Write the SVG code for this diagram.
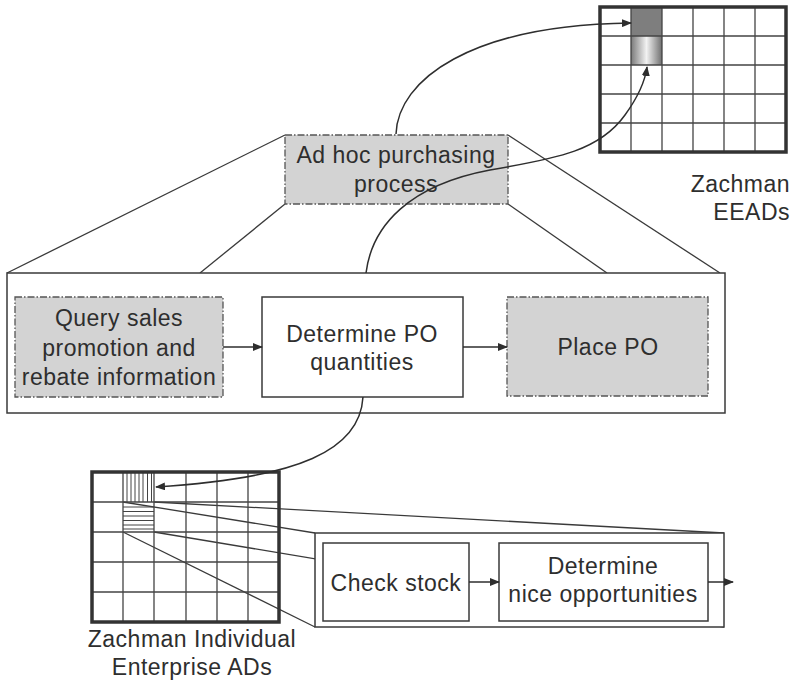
<svg xmlns="http://www.w3.org/2000/svg" width="799" height="684" viewBox="0 0 799 684">
<style>
text{font-family:"Liberation Sans",Arial,sans-serif;font-size:23px;letter-spacing:0.5px;fill:#2e2e2e;text-anchor:middle}
.box{fill:#fff;stroke:#3a3a3a;stroke-width:1.5}
.dash{fill:#d3d3d3;stroke:#555;stroke-width:1.3;stroke-dasharray:7 2 1.5 2}
.ln{fill:none;stroke:#3a3a3a;stroke-width:1.3}
.grid{fill:none;stroke:#444;stroke-width:1.3}
.frame{fill:none;stroke:#333;stroke-width:3.5}
.arr{fill:none;stroke:#2e2e2e;stroke-width:1.5;marker-end:url(#ah)}
.hatch{stroke:#444;stroke-width:1}
</style>
<defs>
<marker id="ah" viewBox="0 0 10 8" refX="9" refY="4" markerWidth="10" markerHeight="8" markerUnits="userSpaceOnUse" orient="auto">
<path d="M0,0 L10,4 L0,8 Z" fill="#2e2e2e"/>
</marker>
<linearGradient id="gcell" x1="0" y1="0" x2="1" y2="0">
<stop offset="0" stop-color="#7a7a7a"/>
<stop offset="0.5" stop-color="#f2f2f2"/>
<stop offset="1" stop-color="#6f6f6f"/>
</linearGradient>
</defs>
<rect width="799" height="684" fill="#fff"/>

<g id="projections">
<line class="ln" x1="285" y1="135" x2="7" y2="273"/>
<line class="ln" x1="285" y1="204" x2="200" y2="273"/>
<line class="ln" x1="508" y1="135" x2="720" y2="273"/>
<line class="ln" x1="508" y1="204" x2="607" y2="273"/>
<line class="ln" x1="123" y1="502" x2="315" y2="533"/>
<line class="ln" x1="154" y1="502" x2="724" y2="533"/>
<line class="ln" x1="123" y1="532" x2="315" y2="627"/>
<line class="ln" x1="154" y1="532" x2="724" y2="627"/>
</g>

<g id="eeads">
<rect x="631" y="7" width="31" height="29" fill="#7e7e7e"/>
<rect x="631" y="36" width="31" height="29" fill="url(#gcell)"/>
<path class="grid" d="M631,7V152M662,7V152M693,7V152M724,7V152M755,7V152M600,36H786M600,65H786M600,94H786M600,123H786"/>
<rect class="frame" x="600" y="7" width="186" height="145"/>
<text x="790" y="192" style="text-anchor:end">Zachman</text>
<text x="790" y="220" style="text-anchor:end">EEADs</text>
</g>

<g id="adhoc">
<rect class="dash" x="285" y="135" width="223" height="69"/>
<text x="396" y="163">Ad hoc purchasing</text>
<text x="396" y="192">process</text>
</g>

<g id="process">
<rect class="box" x="7" y="273" width="718" height="140"/>
</g>

<g id="query">
<rect class="dash" x="15" y="297" width="208" height="100"/>
<text x="119" y="326">Query sales</text>
<text x="119" y="356">promotion and</text>
<text x="119" y="385">rebate information</text>
</g>

<g id="determine-po">
<rect class="box" x="262" y="297" width="201" height="100"/>
<text x="362" y="342">Determine PO</text>
<text x="362" y="370">quantities</text>
</g>

<g id="place-po">
<rect class="dash" x="507" y="297" width="201" height="99"/>
<text x="608" y="355">Place PO</text>
</g>

<g id="individual-ads">
<g class="hatch">
<path d="M127,472V502M131,472V502M135,472V502M139,472V502M143,472V502M147.5,472V502M151.5,472V502"/>
<path d="M123,507H154M123,511.5H154M123,516H154M123,520.5H154M123,525H154M123,529H154"/>
</g>
<path class="grid" d="M123,472V622M154,472V622M186,472V622M217,472V622M248,472V622M92,502H279M92,532H279M92,562H279M92,592H279"/>
<rect class="frame" x="92" y="472" width="187" height="150"/>
<text x="192" y="647">Zachman Individual</text>
<text x="192" y="675">Enterprise ADs</text>
</g>

<g id="sub-process">
<rect class="box" x="315" y="533" width="409" height="94"/>
</g>

<g id="check-stock">
<rect class="box" x="323" y="543" width="146" height="78"/>
<text x="396" y="591">Check stock</text>
</g>

<g id="determine-nice">
<rect class="box" x="499" y="543" width="209" height="78"/>
<text x="603" y="574">Determine</text>
<text x="603" y="602">nice opportunities</text>
</g>

<g id="connectors">
<line class="arr" x1="223" y1="347" x2="262" y2="347"/>
<line class="arr" x1="463" y1="347" x2="507" y2="347"/>
<line class="arr" x1="469" y1="582" x2="499" y2="582"/>
<line class="arr" x1="708" y1="582" x2="733" y2="582"/>
<path class="arr" d="M396,134 C398,80 470,25 631,23"/>
<path class="arr" d="M366,273 C372,225 410,185 490,170 C560,158 600,150 625,115 C638,97 645,82 647,67"/>
<path class="arr" d="M363,397 C360,450 300,478 156,487"/>
</g>
</svg>
